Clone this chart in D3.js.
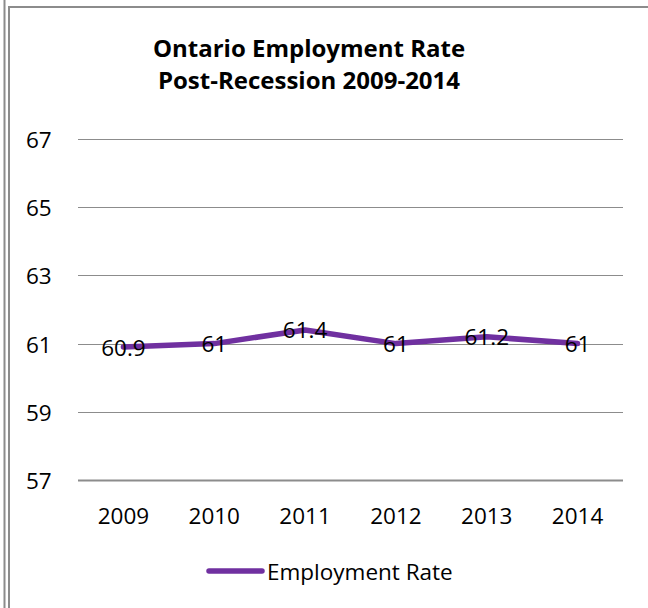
<!DOCTYPE html>
<html>
<head>
<meta charset="utf-8">
<script src="https://cdn.jsdelivr.net/npm/d3@7"></script>
<style>
  html, body { margin: 0; padding: 0; background: #fff; }
  svg { display: block; }
  text { font-family: "Open Sans", sans-serif; fill: #000; }
</style>
</head>
<body>
<svg id="chart" width="648" height="608"></svg>
<script>
// Ontario employment rate, 2009-2014
const years = ["2009", "2010", "2011", "2012", "2013", "2014"];
const rates = [60.9, 61, 61.4, 61, 61.2, 61];
const yTicks = [57, 59, 61, 63, 65, 67];
const titleLines = ["Ontario Employment Rate", "Post-Recession 2009-2014"];
const seriesName = "Employment Rate";

const W = 648, H = 608;
const FONT = "'Open Sans', sans-serif";
const LABEL_SIZE = "22.5px";
const svg = d3.select("#chart");

// outer frame: separate rule on the left, box open to the right/bottom
svg.append("line").attr("x1", 4.5).attr("x2", 4.5).attr("y1", 0).attr("y2", H)
  .attr("stroke", "#8c8c8c").attr("stroke-width", 2);
svg.append("path").attr("d", `M9,${H} V7 H${W}`)
  .attr("fill", "none").attr("stroke", "#8c8c8c").attr("stroke-width", 2);

const margin = { left: 78, right: 25, top: 139, bottom: 128 };
const x = d3.scaleBand().domain(years).range([margin.left, W - margin.right]);
const y = d3.scaleLinear().domain([57, 67]).range([H - margin.bottom, margin.top]);

// title
const titleX = 309;
svg.append("text").attr("x", titleX).attr("y", 57).attr("text-anchor", "middle")
  .style("font-size", "24px").style("font-weight", "bold")
  .selectAll("tspan").data(titleLines).join("tspan")
  .attr("x", titleX).attr("dy", (d, i) => i ? 32 : 0).text(d => d);

// horizontal gridlines
svg.append("g").selectAll("line").data(yTicks.slice(1)).join("line")
  .attr("x1", margin.left).attr("x2", W - margin.right)
  .attr("y1", d => Math.round(y(d)) + 0.5).attr("y2", d => Math.round(y(d)) + 0.5)
  .attr("stroke", "#8c8c8c").attr("stroke-width", 1);

// y axis labels
const yAxis = d3.axisLeft(y).tickValues(yTicks).tickSize(0).tickPadding(0);
const gy = svg.append("g").attr("transform", "translate(26,0)").call(yAxis);
gy.select(".domain").remove();
gy.selectAll("text").attr("text-anchor", "start").attr("x", 0)
  .attr("dy", null).attr("dominant-baseline", "central")
  .style("font-size", LABEL_SIZE).style("font-family", FONT);

// x axis
const xAxis = d3.axisBottom(x).tickSize(0);
const gx = svg.append("g").attr("transform", `translate(0,${Math.round(y(57)) + 0.5})`).call(xAxis);
gx.select(".domain").attr("stroke", "#8c8c8c").attr("stroke-width", 2)
  .attr("d", `M${margin.left},0H${W - margin.right}`);
gx.selectAll("text").attr("y", 35).attr("dy", null).attr("dominant-baseline", "central")
  .style("font-size", LABEL_SIZE).style("font-family", FONT);

// series line
const pts = years.map((yr, i) => [x(yr) + x.bandwidth() / 2, y(rates[i])]);
svg.append("path").attr("d", d3.line()(pts))
  .attr("fill", "none").attr("stroke", "#7030a0").attr("stroke-width", 5.5)
  .attr("stroke-linejoin", "round").attr("stroke-linecap", "round");

// value labels centred on points
svg.append("g").selectAll("text").data(rates).join("text")
  .attr("x", (d, i) => pts[i][0]).attr("y", (d, i) => pts[i][1])
  .attr("text-anchor", "middle").attr("dominant-baseline", "central")
  .style("font-size", LABEL_SIZE).text(d => d);

// legend
svg.append("line").attr("x1", 209).attr("x2", 262).attr("y1", 571).attr("y2", 571)
  .attr("stroke", "#7030a0").attr("stroke-width", 5.5).attr("stroke-linecap", "round");
svg.append("text").attr("x", 267).attr("y", 571).attr("dominant-baseline", "central")
  .style("font-size", LABEL_SIZE).text(seriesName);
</script>
</body>
</html>
